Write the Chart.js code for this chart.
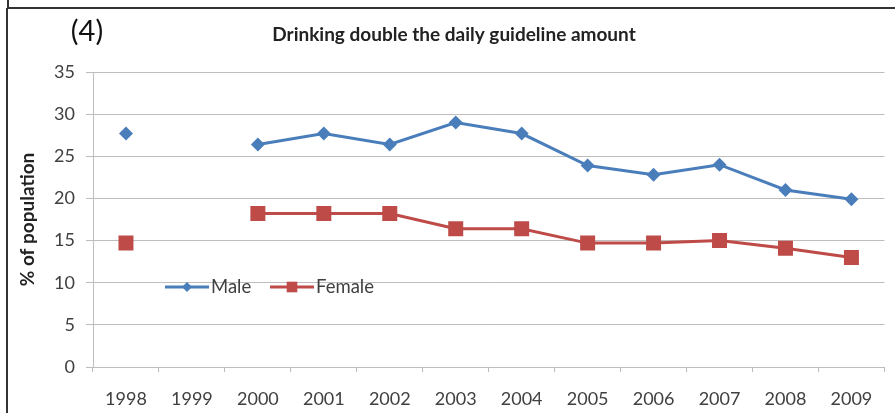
<!DOCTYPE html>
<html>
<head>
<meta charset="utf-8">
<title>Drinking double the daily guideline amount</title>
<script src="https://cdn.jsdelivr.net/npm/chart.js@4/dist/chart.umd.min.js"></script>
<style>
  html, body { margin: 0; padding: 0; background: #fff; }
  #wrap { position: relative; width: 895px; height: 413px; overflow: hidden; }
  #chart { position: absolute; left: 0; top: 0; }
  /* panel frame */
  .frame-top { position: absolute; left: 7px; top: 7px; width: 888px; height: 0; border-top: 2px solid #333; }
  .frame-left { position: absolute; left: 6px; top: 8px; width: 0; height: 405px; border-left: 2px solid #333; }
  .frame-above { position: absolute; left: 7px; top: 0; width: 0; height: 8px; border-left: 2px solid #333; }
</style>
</head>
<body>
<div id="wrap">
  <canvas id="chart" width="895" height="413"></canvas>
  <div class="frame-above"></div>
  <div class="frame-top"></div>
  <div class="frame-left"></div>
</div>
<script>
  // Share of population drinking double the daily guideline amount
  const years = ['1998', '1999', '2000', '2001', '2002', '2003', '2004', '2005', '2006', '2007', '2008', '2009'];
  const maleValues = [27.7, null, 26.4, 27.7, 26.4, 29.0, 27.7, 23.9, 22.8, 24.0, 21.0, 19.9];
  const femaleValues = [14.7, null, 18.2, 18.2, 18.2, 16.4, 16.4, 14.7, 14.7, 15.0, 14.1, 13.0];
  const yMin = 0;
  const yMax = 35;
  const yStep = 5;

  const FONT = 'Lato, "Open Sans", sans-serif';
  const BLUE = '#4a7ebb';
  const RED = '#be4b48';
  const GRID = '#bdbdbd';
  const TEXT = '#404040';

  function drawMarker(ctx, style, x, y, r, color) {
    ctx.save();
    ctx.fillStyle = color;
    ctx.beginPath();
    if (style === 'rectRot') {
      ctx.moveTo(x - r, y);
      ctx.lineTo(x, y - r);
      ctx.lineTo(x + r, y);
      ctx.lineTo(x, y + r);
      ctx.closePath();
    } else {
      const s = r * Math.SQRT1_2;
      ctx.rect(x - s, y - s, 2 * s, 2 * s);
    }
    ctx.fill();
    ctx.restore();
  }

  // Headings and the in-plot legend
  const decorations = {
    id: 'decorations',
    afterDraw(chart) {
      const ctx = chart.ctx;
      ctx.save();
      ctx.textBaseline = 'middle';

      ctx.fillStyle = '#111';
      ctx.textAlign = 'center';
      ctx.font = '29px ' + FONT;
      ctx.fillText('(4)', 87, 32);

      ctx.fillStyle = '#222';
      ctx.font = 'bold 19px ' + FONT;
      ctx.fillText('Drinking double the daily guideline amount', 454, 35);

      // legend entries drawn over the plot area
      const legendY = 287;
      const starts = [165, 270];
      ctx.textAlign = 'left';
      ctx.font = '18.5px ' + FONT;
      chart.data.datasets.forEach((ds, i) => {
        const x0 = starts[i];
        ctx.strokeStyle = ds.borderColor;
        ctx.lineWidth = 3;
        ctx.beginPath();
        ctx.moveTo(x0, legendY);
        ctx.lineTo(x0 + 44, legendY);
        ctx.stroke();
        drawMarker(ctx, ds.pointStyle, x0 + 22, legendY, ds.pointStyle === 'rectRot' ? 5 : 7.5, ds.pointBackgroundColor);
        ctx.fillStyle = TEXT;
        ctx.fillText(ds.label, x0 + 46, legendY);
      });
      ctx.restore();
    }
  };

  new Chart(document.getElementById('chart'), {
    type: 'line',
    data: {
      labels: years,
      datasets: [
        {
          label: 'Male',
          data: maleValues,
          borderColor: BLUE,
          backgroundColor: BLUE,
          pointBackgroundColor: BLUE,
          pointBorderColor: BLUE,
          borderWidth: 3,
          pointStyle: 'rectRot',
          pointRadius: 7,
          pointBorderWidth: 0,
          spanGaps: false,
          tension: 0
        },
        {
          label: 'Female',
          data: femaleValues,
          borderColor: RED,
          backgroundColor: RED,
          pointBackgroundColor: RED,
          pointBorderColor: RED,
          borderWidth: 3,
          pointStyle: 'rect',
          pointRadius: 10.6,
          pointBorderWidth: 0,
          spanGaps: false,
          tension: 0
        }
      ]
    },
    options: {
      responsive: false,
      animation: false,
      layout: { padding: { top: 72, right: 1, left: 16, bottom: 0 } },
      plugins: {
        legend: { display: false },
        title: { display: false },
        tooltip: { enabled: false }
      },
      scales: {
        x: {
          offset: true,
          grid: {
            offset: true,
            drawOnChartArea: false,
            drawTicks: true,
            tickLength: 5,
            tickColor: GRID
          },
          border: { display: true, color: GRID, width: 1 },
          ticks: { color: TEXT, font: { family: FONT, size: 18 }, padding: 16, maxRotation: 0, autoSkip: false },
          afterFit(scale) { scale.height = 46; }
        },
        y: {
          min: yMin,
          max: yMax,
          ticks: { stepSize: yStep, color: TEXT, font: { family: FONT, size: 18 }, padding: 11 },
          grid: { color: GRID, lineWidth: 1, drawTicks: true, tickLength: 7, tickColor: GRID },
          border: { display: true, color: GRID, width: 1 },
          title: {
            display: true,
            text: '% of population',
            color: '#222',
            font: { family: FONT, size: 19, weight: 'bold' },
            padding: 0
          },
          afterFit(scale) { scale.width = 77; }
        }
      }
    },
    plugins: [decorations]
  });
</script>
</body>
</html>
